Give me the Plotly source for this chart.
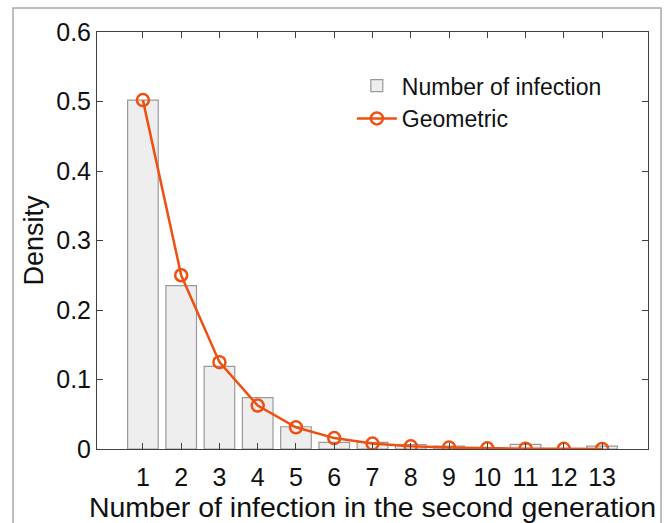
import plotly.graph_objects as go

categories = list(range(1, 14))
observed_density = [0.502, 0.235, 0.119, 0.074, 0.032, 0.0095, 0.0095, 0.0065,
                    0.004, 0.002, 0.0067, 0.0005, 0.004]
geometric_density = [0.502, 0.250, 0.125, 0.0625, 0.0312, 0.0157, 0.0078, 0.0039,
                     0.0020, 0.0010, 0.0005, 0.00025, 0.00012]
y_ticks = [0, 0.1, 0.2, 0.3, 0.4, 0.5, 0.6]
y_tick_labels = ["0", "0.1", "0.2", "0.3", "0.4", "0.5", "0.6"]

FONT = "Liberation Sans, Arial, Helvetica, sans-serif"
ORANGE = "#EE5011"

fig = go.Figure()
fig.add_trace(go.Bar(
    x=categories, y=observed_density, width=0.8,
    name="Number of infection",
    marker=dict(color="#eeeeee", line=dict(color="#9a9a9a", width=1.2)),
))
fig.add_trace(go.Scatter(
    x=categories, y=geometric_density, mode="lines+markers",
    name="Geometric",
    line=dict(color=ORANGE, width=2.5),
    marker=dict(symbol="circle-open", size=12, color=ORANGE,
                line=dict(color=ORANGE, width=2.5)),
))

axis_common = dict(
    showline=True, linecolor="#404040", linewidth=1,
    mirror="allticks", ticks="inside", ticklen=6, tickcolor="#404040",
    showgrid=False, zeroline=False, automargin=False,
    tickfont=dict(family=FONT, size=25, color="#111111"),
)

fig.update_layout(
    width=666, height=523,
    margin=dict(l=97, r=18, t=32, b=74),
    paper_bgcolor="white", plot_bgcolor="white",
    font=dict(family=FONT, color="#111111"),
    bargap=0.2,
    xaxis=dict(range=[-0.2, 14.2], tickvals=categories, ticklabelstandoff=6,
               title=dict(text="Number of infection in the second generation",
                          font=dict(family=FONT, size=28.5, color="#111111"),
                          standoff=8),
               **axis_common),
    yaxis=dict(range=[0, 0.6], tickvals=y_ticks, ticktext=y_tick_labels,
               title=dict(text="Density",
                          font=dict(family=FONT, size=27, color="#111111"),
                          standoff=4),
               **axis_common),
    legend=dict(x=0.4625, y=0.923, xanchor="left", yanchor="top",
                bgcolor="rgba(255,255,255,0)", borderwidth=0,
                font=dict(family=FONT, size=23, color="#111111"),
                itemwidth=40, tracegroupgap=0),
    showlegend=True,
    shapes=[dict(type="rect", xref="paper", yref="paper",
                 x0=(13 - 97) / 551, x1=(661 - 97) / 551,
                 y0=-0.25, y1=(449 - 8) / 417,
                 line=dict(color="#a8a8a8", width=1.5), layer="below")],
)

fig.write_html("out.html",
               config={"displayModeBar": False},
               post_script="document.body.style.margin='0';document.body.style.overflow='hidden';")
